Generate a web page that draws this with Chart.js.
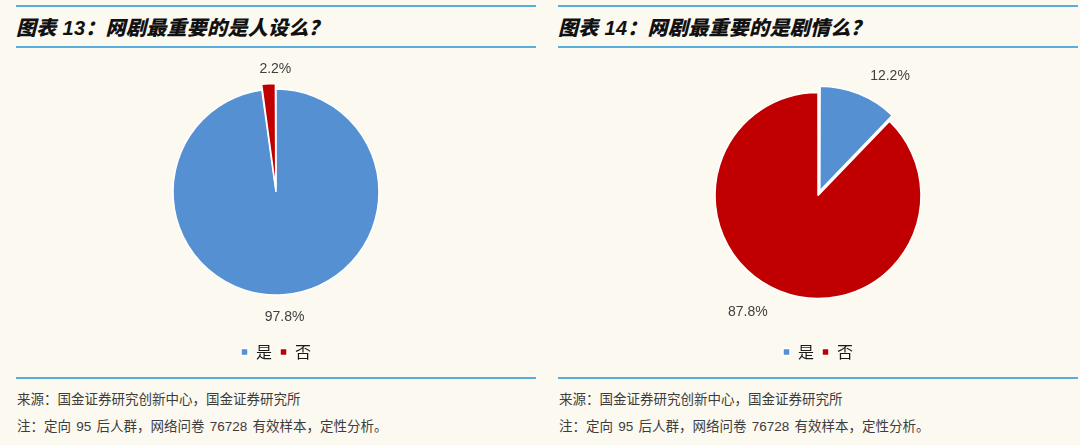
<!DOCTYPE html>
<html>
<head>
<meta charset="utf-8">
<script src="https://cdn.jsdelivr.net/npm/chart.js@4"></script>
<style>
  html, body { margin: 0; padding: 0; }
  body {
    width: 1080px; height: 445px; overflow: hidden;
    background: #fcf9f0;
    font-family: "Liberation Sans", "Noto Sans CJK SC", sans-serif;
    position: relative;
  }
  .panel { position: absolute; top: 0; width: 520px; height: 445px; }
  .rule { position: absolute; left: 0; width: 520px; height: 2px; background: #5aaedb; }
  .title {
    position: absolute; left: 0; top: 12px;
    font-family: "Liberation Sans", "Noto Sans CJK SC", sans-serif;
    font-weight: 900; font-style: italic; font-size: 20px; color: #111;
    letter-spacing: 0.3px;
  }
  .chartbox { position: absolute; left: 0; top: 48px; width: 520px; height: 330px; }
  .note {
    position: absolute; left: 1px; font-size: 13.5px; color: #3c3c3c;
    font-family: "Liberation Sans", "Noto Sans CJK SC", sans-serif;
  }
</style>
</head>
<body>
<div class="panel" style="left:16px">
  <div class="rule" style="top:5px"></div>
  <div class="title">图表 13：网剧最重要的是人设么？</div>
  <div class="rule" style="top:46px"></div>
  <div class="chartbox"><canvas id="chart1"></canvas></div>
  <div class="rule" style="top:377px"></div>
  <div class="note" style="top:388px">来源：国金证券研究创新中心，国金证券研究所</div>
  <div class="note" style="top:415px;word-spacing:1.5px">注：定向 95 后人群，网络问卷 76728 有效样本，定性分析。</div>
</div>
<div class="panel" style="left:558px">
  <div class="rule" style="top:5px"></div>
  <div class="title">图表 14：网剧最重要的是剧情么？</div>
  <div class="rule" style="top:46px"></div>
  <div class="chartbox"><canvas id="chart2"></canvas></div>
  <div class="rule" style="top:377px"></div>
  <div class="note" style="top:388px">来源：国金证券研究创新中心，国金证券研究所</div>
  <div class="note" style="top:415px;word-spacing:1.5px">注：定向 95 后人群，网络问卷 76728 有效样本，定性分析。</div>
</div>
<script>
// data
const answers = ["是", "否"]
const personaShares = [97.8, 2.2]   // 图表 13
const plotShares = [12.2, 87.8]     // 图表 14

const blue = "#5590d3"
const red = "#c00000"

// percentage labels outside each slice
const outsideLabels = {
  id: "outsideLabels",
  afterDatasetsDraw(chart, args, opts) {
    const ctx = chart.ctx
    const meta = chart.getDatasetMeta(0)
    ctx.save()
    ctx.font = "14px 'Liberation Sans', Arial, sans-serif"
    ctx.fillStyle = "#404040"
    ctx.textAlign = "center"
    ctx.textBaseline = "middle"
    meta.data.forEach((arc, i) => {
      const p = arc.getProps(["x", "y", "startAngle", "endAngle", "outerRadius"], true)
      const mid = (p.startAngle + p.endAngle) / 2
      const r = p.outerRadius + opts.gap[i]
      const v = chart.data.datasets[0].data[i]
      const [dx, dy] = opts.shift[i]
      ctx.fillText(v.toFixed(1) + "%", p.x + Math.cos(mid) * r + dx, p.y + Math.sin(mid) * r + dy)
    })
    ctx.restore()
  }
}

function makePie(id, values, offsets, gaps, shifts, topPad) {
  new Chart(document.getElementById(id), {
    type: "pie",
    data: {
      labels: answers,
      datasets: [{
        data: values,
        backgroundColor: [blue, red],
        borderColor: "#ffffff",
        borderWidth: 1.5,
        offset: offsets,
        radius: 103
      }]
    },
    options: {
      responsive: true,
      maintainAspectRatio: false,
      animation: false,
      layout: { padding: { top: topPad, bottom: 8 } },
      plugins: {
        legend: {
          position: "bottom",
          labels: {
            boxWidth: 7, boxHeight: 7, padding: 8,
            color: "#1a1a1a",
            font: { size: 16, family: "'Noto Sans CJK SC', sans-serif" }
          }
        },
        tooltip: { enabled: false },
        outsideLabels: { gap: gaps, shift: shifts }
      }
    },
    plugins: [outsideLabels]
  })
}

makePie("chart1", personaShares, [0, 12], [22, 22], [[0, 0], [8, 2]], 0)
makePie("chart2", plotShares, [20, 0], [36, 34], [[20, 10], [-19, -10]], 7)
</script>
</body>
</html>
